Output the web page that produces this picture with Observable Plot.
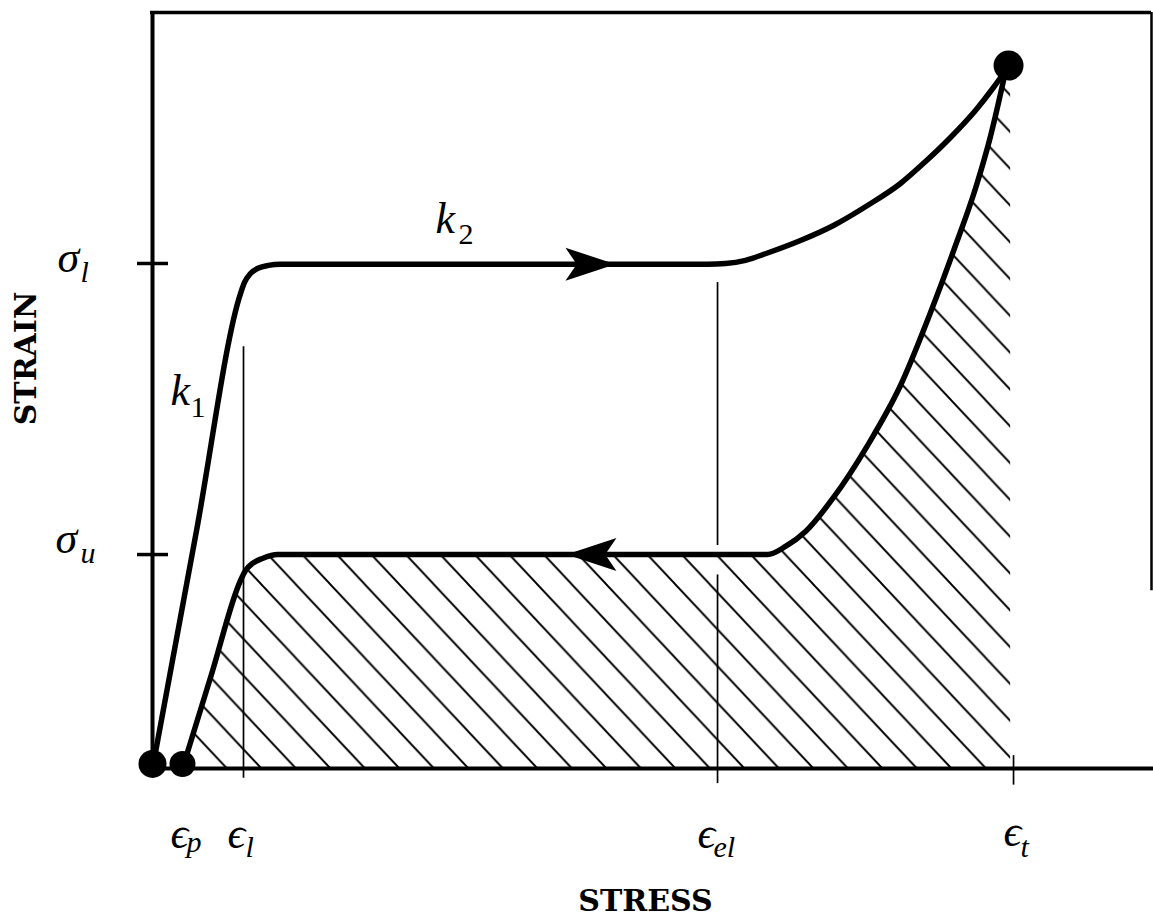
<!DOCTYPE html>
<html>
<head>
<meta charset="utf-8">
<script src="https://cdn.jsdelivr.net/npm/d3@7"></script>
<script src="https://cdn.jsdelivr.net/npm/@observablehq/plot@0.6"></script>
<style>
  html, body { margin: 0; padding: 0; background: #fff; }
</style>
</head>
<body>
<div id="chart"></div>
<script>
// ---- data (abstract units: x = stress 0..100, y = strain 0..100) ----
const loadX = [0, 4.40, 8.81, 9.21, 9.81, 10.61, 11.61, 12.81, 34.0, 55.56, 57.36, 59.36, 61.56, 64.86, 68.17, 71.57, 74.87, 77.38, 79.88, 82.38, 84.18, 85.39];
const loadY = [0, 31.41, 62.83, 64.29, 65.48, 66.20, 66.55, 66.70, 66.70, 66.70, 66.80, 67.22, 68.19, 69.84, 71.83, 74.47, 77.38, 80.29, 83.47, 87.04, 90.08, 92.33];

const unloadX = [3.00, 5.90, 8.81, 9.31, 10.01, 11.01, 12.51, 37.0, 61.56, 63.36, 65.37, 68.17, 71.57, 74.87, 77.88, 80.38, 82.38, 83.88, 85.19];
const unloadY = [0, 12.43, 24.87, 26.19, 27.12, 27.78, 28.30, 28.30, 28.30, 29.37, 31.35, 35.85, 42.72, 50.66, 60.32, 69.18, 76.72, 83.60, 91.01];

// right edge of the hatched region (at eps_t)
const hatchEdgeX = 85.9;

// special strain values on the stress axis
const epsNames = ["p", "l", "el", "t"];
const epsX = [3.00, 9.11, 56.56, 86.19];

// special stress levels
const sigmaNames = ["l", "u"];
const sigmaY = [66.8, 28.3];

// marked points
const dotX = [0, 3.0, 85.69];
const dotY = [0.6, 0.6, 92.99];
const dotR = [14, 13, 15];

// direction arrows
const arrowX = [43.84, 43.94];
const arrowY = [66.70, 28.30];
const arrowRot = [0, 180];

// thin guide lines
const guideX = [epsX[1], epsX[2], epsX[2], epsX[3]];
const guideY1 = [55.8, 64.3, 25.6, 1.7];
const guideY2 = [-1.3, 29.5, -2.0, -2.2];

// math labels
const symText = ["σ", "σ", "k", "k", "ϵ", "ϵ", "ϵ", "ϵ"];
const symX = [-9.51, -9.71, 1.80, 28.33, 1.80, 7.51, 54.55, 85.19];
const symY = [65.61, 28.44, 48.02, 70.77, -10.45, -10.45, -10.45, -10.19];
const subText = ["l", "u", "p", "l", "el", "t"];
const subX = [-7.21, -7.21, 3.40, 9.31, 56.16, 86.89];
const subY = [64.29, 27.12, -11.11, -11.77, -11.77, -11.77];
const digText = ["1", "2"];
const digX = [3.80, 30.63];
const digY = [46.43, 69.44];

// axis titles
const xTitle = "STRESS";
const yTitle = "STRAIN";

// ---- build tables ----
const zip = (xs, ys, extra = {}) => xs.map((x, i) => {
  const o = {x, y: ys[i]};
  for (const k in extra) o[k] = extra[k][i];
  return o;
});
const loading = zip(loadX, loadY);
const unloading = zip(unloadX, unloadY);
const hatchArea = [...unloading, {x: hatchEdgeX, y: unloadY[unloadY.length - 1]}];
const dots = zip(dotX, dotY, {r: dotR});
const arrows = zip(arrowX, arrowY, {rot: arrowRot});
const guides = guideX.map((x, i) => ({x, y1: guideY1[i], y2: guideY2[i]}));
const ticksY = sigmaY.map((y) => ({y}));
const syms = zip(symX, symY, {t: symText});
const subs = zip(subX, subY, {t: subText});
const digs = zip(digX, digY, {t: digText});

// custom arrowhead symbol (points right)
const arrowHead = {
  draw(ctx, size) {
    const r = Math.sqrt(size / Math.PI);
    ctx.moveTo(r, 0);
    ctx.lineTo(-r, -0.66 * r);
    ctx.lineTo(-0.55 * r, 0);
    ctx.lineTo(-r, 0.66 * r);
    ctx.closePath();
  }
};

const mathFont = "'Liberation Serif', 'DejaVu Serif', serif";
const labelFont = "'DejaVu Serif', serif";

const chart = Plot.plot({
  width: 1153,
  height: 923,
  marginLeft: 152,
  marginRight: 2,
  marginTop: 12,
  marginBottom: 155,
  x: {domain: [0, 100], axis: null},
  y: {domain: [0, 100], axis: null},
  r: {type: "identity"},
  style: {background: "#fff", color: "#000", overflow: "visible"},
  marks: [
    // hatched region under the unloading curve
    Plot.areaY(hatchArea, {x: "x", y: "y", y1: 0, fill: "url(#hatch)", curve: "monotone-x"}),
    // frame
    Plot.ruleX([0], {y1: 0, y2: 100, stroke: "#000", strokeWidth: 4}),
    Plot.ruleY([100], {x1: -0.2, x2: 100, stroke: "#000", strokeWidth: 3.5}),
    Plot.ruleX([100], {y1: 23.5, y2: 100, stroke: "#000", strokeWidth: 2.5}),
    Plot.ruleY([0], {x1: 0, x2: 100.3, stroke: "#000", strokeWidth: 4}),
    // stress level ticks
    Plot.ruleY(ticksY, {y: "y", x1: -1.5, x2: 1.6, stroke: "#000", strokeWidth: 3.5}),
    // thin guides
    Plot.ruleX(guides, {x: "x", y1: "y1", y2: "y2", stroke: "#000", strokeWidth: 1.7}),
    // curves
    Plot.line(loading, {x: "x", y: "y", stroke: "#000", strokeWidth: 5.5, curve: "monotone-x", strokeLinejoin: "round", strokeLinecap: "round"}),
    Plot.line(unloading, {x: "x", y: "y", stroke: "#000", strokeWidth: 5.5, curve: "monotone-x", strokeLinejoin: "round", strokeLinecap: "round"}),
    // arrows
    Plot.dot(arrows, {x: "x", y: "y", r: 25, rotate: "rot", symbol: arrowHead, fill: "#000", stroke: "none"}),
    // points
    Plot.dot(dots, {x: "x", y: "y", r: "r", fill: "#000", stroke: "none"}),
    // labels
    Plot.text(syms, {x: "x", y: "y", text: "t", textAnchor: "start", lineAnchor: "bottom", fontSize: 44, fontStyle: "italic", fontFamily: mathFont, fill: "#000"}),
    Plot.text(subs, {x: "x", y: "y", text: "t", textAnchor: "start", lineAnchor: "bottom", fontSize: 30, fontStyle: "italic", fontFamily: mathFont, fill: "#000"}),
    Plot.text(digs, {x: "x", y: "y", text: "t", textAnchor: "start", lineAnchor: "bottom", fontSize: 30, fontFamily: mathFont, fill: "#000"}),
    Plot.text([xTitle], {x: 49.35, y: -17.59, text: (d) => d, textAnchor: "middle", lineAnchor: "middle", fontSize: 30, fontWeight: "bold", fontFamily: labelFont, fill: "#000"}),
    Plot.text([yTitle], {x: -12.61, y: 54.23, text: (d) => d, rotate: -90, textAnchor: "middle", lineAnchor: "middle", fontSize: 30, fontWeight: "bold", fontFamily: labelFont, fill: "#000"})
  ]
});

// hatch pattern definition
const w = 34.5, h = 36.8;
const svg = d3.select(chart.tagName.toLowerCase() === "svg" ? chart : chart.querySelector("svg"));
const pat = svg.insert("defs", ":first-child").append("pattern")
  .attr("id", "hatch")
  .attr("patternUnits", "userSpaceOnUse")
  .attr("x", 675).attr("y", 768)
  .attr("width", w).attr("height", h);
pat.append("path")
  .attr("d", `M${-0.1*w},${-0.1*h}L${1.1*w},${1.1*h}M${-0.1*w},${0.9*h}L${0.1*w},${1.1*h}M${0.9*w},${-0.1*h}L${1.1*w},${0.1*h}`)
  .attr("stroke", "#000").attr("stroke-width", 1.9).attr("fill", "none");

document.getElementById("chart").appendChild(chart);
</script>
</body>
</html>
